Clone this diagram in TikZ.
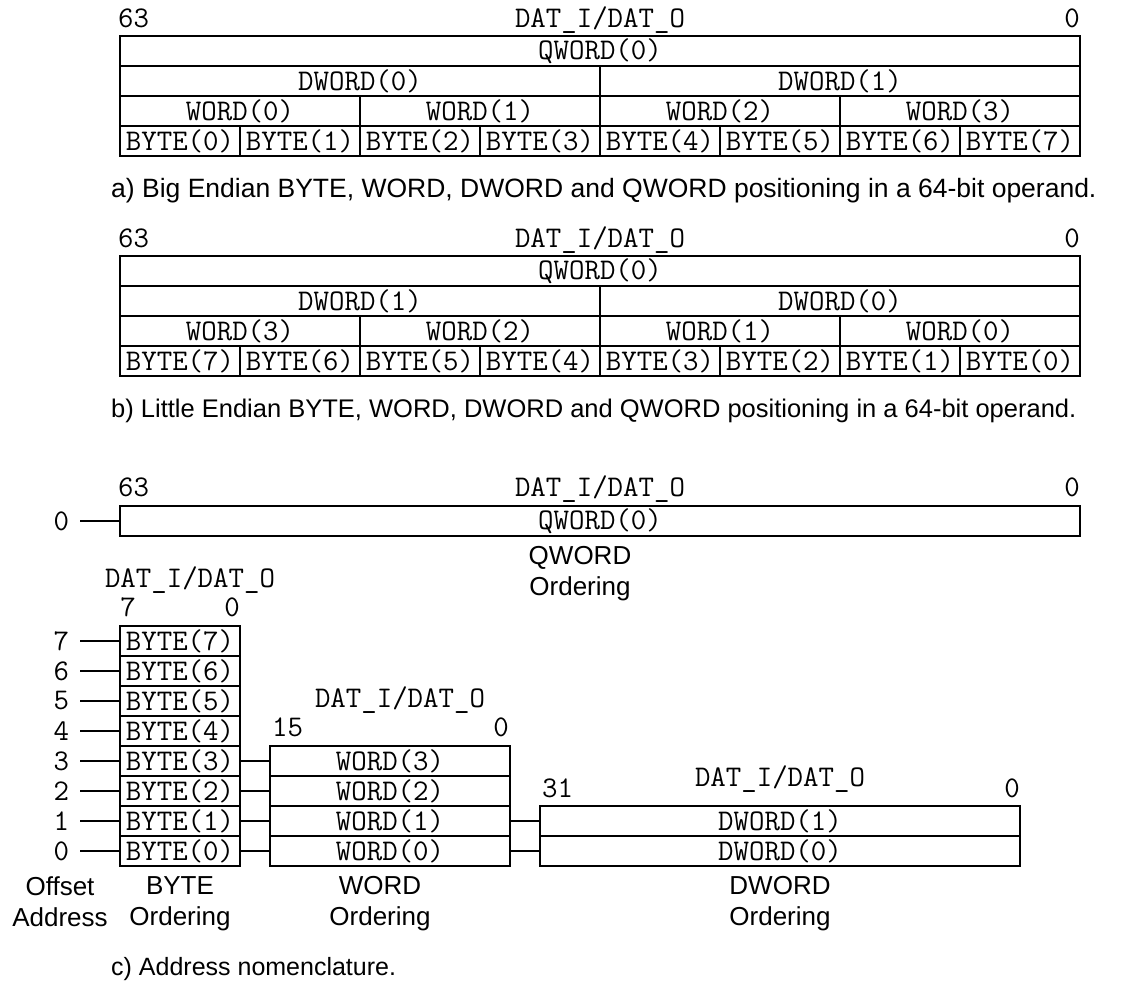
\documentclass[tikz,border=0pt]{standalone}
\usepackage{fontspec}
\setmainfont{Liberation Sans}
\newcommand\monotxt{\ttfamily\fontsize{30}{30}\selectfont}
\newcommand\sanstxt{\rmfamily\fontsize{26}{31}\selectfont}
\newcommand\captiontxta{\rmfamily\fontsize{26.5}{30}\selectfont}
\newcommand\captiontxtb{\rmfamily\fontsize{25.5}{30}\selectfont}
\newcommand\captiontxtc{\rmfamily\fontsize{25}{30}\selectfont}
\begin{document}
\begin{tikzpicture}[x=1pt,y=-1pt,
  cell/.style={draw,line width=1.8pt,minimum height=30pt,inner sep=0pt,outer sep=0pt,anchor=north west,font=\monotxt},
  bit/.style={inner sep=0pt,font=\monotxt,anchor=base},
  offs/.style={inner xsep=11pt,inner ysep=0pt,outer sep=0pt,font=\monotxt,anchor=east},
  captxt/.style={inner sep=0pt,anchor=base west},
  ord/.style={inner sep=0pt,font=\sanstxt,align=center,anchor=north},
  conn/.style={line width=1.8pt},
]
\useasboundingbox (0,0) rectangle (1124,983);

% ---------- a) Big endian ----------
\node[bit,anchor=base west] (a63) at (118,27) {63};
\node[bit] (adat) at (600,27) {DAT\_I/DAT\_O};
\node[bit,anchor=base east] (a0) at (1080,27) {0};
\node[cell,minimum width=960pt] (aq) at (120,36) {QWORD(0)};
\node[cell,minimum width=480pt] (ad0) at (120,66) {DWORD(0)};
\node[cell,minimum width=480pt] (ad1) at (600,66) {DWORD(1)};
\foreach \i in {0,...,3}
  \node[cell,minimum width=240pt] (aw\i) at ({120+240*\i},96) {WORD(\i)};
\foreach \i in {0,...,7}
  \node[cell,minimum width=120pt] (ab\i) at ({120+120*\i},126) {BYTE(\i)};
\node[captxt,font=\captiontxta] (capa) at (111,197) {a) Big Endian BYTE, WORD, DWORD and QWORD positioning in a 64-bit operand.};

% ---------- b) Little endian ----------
\node[bit,anchor=base west] (b63) at (118,247) {63};
\node[bit] (bdat) at (600,247) {DAT\_I/DAT\_O};
\node[bit,anchor=base east] (b0) at (1080,247) {0};
\node[cell,minimum width=960pt] (bq) at (120,256) {QWORD(0)};
\node[cell,minimum width=480pt] (bd1) at (120,286) {DWORD(1)};
\node[cell,minimum width=480pt] (bd0) at (600,286) {DWORD(0)};
\foreach \i [evaluate=\i as \j using int(3-\i)] in {0,...,3}
  \node[cell,minimum width=240pt] (bw\j) at ({120+240*\i},316) {WORD(\j)};
\foreach \i [evaluate=\i as \j using int(7-\i)] in {0,...,7}
  \node[cell,minimum width=120pt] (bb\j) at ({120+120*\i},346) {BYTE(\j)};
\node[captxt,font=\captiontxtb] (capb) at (111,417) {b) Little Endian BYTE, WORD, DWORD and QWORD positioning in a 64-bit operand.};

% ---------- c) Address nomenclature ----------
\node[bit,anchor=base west] (c63) at (118,496) {63};
\node[bit] (cdat) at (600,496) {DAT\_I/DAT\_O};
\node[bit,anchor=base east] (c0) at (1080,496) {0};
\node[cell,minimum width=960pt] (cq) at (120,506) {QWORD(0)};
\node[offs] (oq) at (80,521) {0};
\draw[conn] (oq.east) -- (cq.west);
\node[ord] (qord) at (580,546) {QWORD\\Ordering};

% BYTE ordering
\node[bit] (cbdat) at (190,587) {DAT\_I/DAT\_O};
\node[bit] (cb7l) at (128,616) {7};
\node[bit] (cb0l) at (232,616) {0};
\foreach \i in {0,...,7}{
  \node[cell,minimum width=120pt] (cb\i) at (120,{626+30*(7-\i)}) {BYTE(\i)};
  \node[offs] (o\i) at (80,{641+30*(7-\i)}) {\i};
  \draw[conn] (o\i.east) -- (cb\i.west);
}

% WORD ordering
\node[bit] (cwdat) at (400,707) {DAT\_I/DAT\_O};
\node[bit,anchor=base west] (cw15) at (272,736) {15};
\node[bit,anchor=base east] (cw0l) at (509,736) {0};
\foreach \i in {0,...,3}{
  \node[cell,minimum width=240pt] (cw\i) at (270,{746+30*(3-\i)}) {WORD(\i)};
  \draw[conn] (cb\i.east) -- (cw\i.west);
}

% DWORD ordering
\node[bit] (cddat) at (780,786) {DAT\_I/DAT\_O};
\node[bit,anchor=base west] (cd31) at (542,797) {31};
\node[bit,anchor=base east] (cd0l) at (1020,797) {0};
\foreach \i in {0,1}{
  \node[cell,minimum width=480pt] (cd\i) at (540,{806+30*(1-\i)}) {DWORD(\i)};
  \draw[conn] (cw\i.east) -- (cd\i.west);
}

% bottom labels
\node[ord] (lo) at (60,876) {Offset\\Address};
\node[ord] (lb) at (180,876) {BYTE\\Ordering};
\node[ord] (lw) at (380,876) {WORD\\Ordering};
\node[ord] (ld) at (780,876) {DWORD\\Ordering};
\node[captxt,font=\captiontxtc] (capc) at (111,975) {c) Address nomenclature.};
\end{tikzpicture}
\end{document}
